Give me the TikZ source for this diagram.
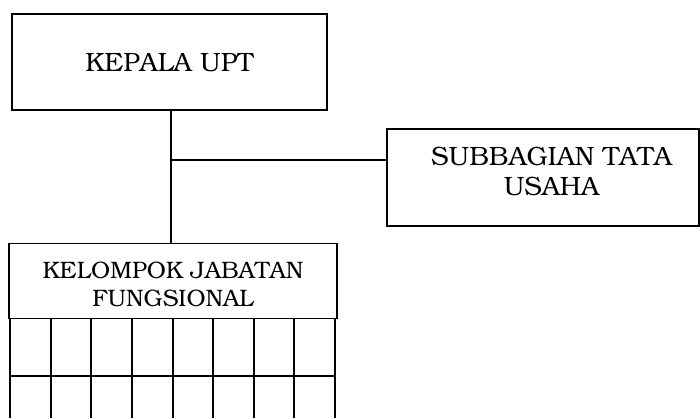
\documentclass[tikz,border=0pt]{standalone}
\usepackage[T1]{fontenc}
\usepackage{bookman}
\begin{document}
\begin{tikzpicture}[x=1pt,y=-1pt,
  orgbox/.style={draw=black,line width=1.3pt,fill=white,inner sep=0pt,align=center,
    font=\fontsize{26.5}{29}\selectfont},
  boxtext/.style={inner sep=0pt,align=center},
  link/.style={draw=black,line width=1.3pt},
  gridline/.style={draw=black,line width=2pt}]
\useasboundingbox (0,0) rectangle (700,418);
\node[orgbox,minimum width=315pt,minimum height=96pt] (kepala) at (169.5,62) {KEPALA UPT};
\node[orgbox,minimum width=312pt,minimum height=97pt] (sub) at (543,177.5) {};
\node[boxtext,font=\fontsize{26.5}{30}\selectfont] (subtext) at ([xshift=8.5pt,yshift=6pt]sub.center) {SUBBAGIAN TATA\\USAHA};
\node[orgbox,minimum width=328pt,minimum height=75pt] (kel) at (173,281) {};
\node[boxtext,font=\fontsize{23.8}{28.5}\selectfont] (keltext) at ([yshift=-3.5pt]kel.center) {KELOMPOK JABATAN\\FUNGSIONAL};
\coordinate (junc) at (171,160);
\draw[link] (kepala.south -| junc) -- (junc) -- (kel.north -| junc);
\draw[link] (junc) -- (sub.west |- junc);
\foreach \x in {10,50.6,91.2,131.9,172.5,213.1,253.8,294.4,335} {
  \draw[gridline] (\x,318) -- (\x,418);
}
\draw[gridline] (10,376) -- (335,376);
\end{tikzpicture}
\end{document}
